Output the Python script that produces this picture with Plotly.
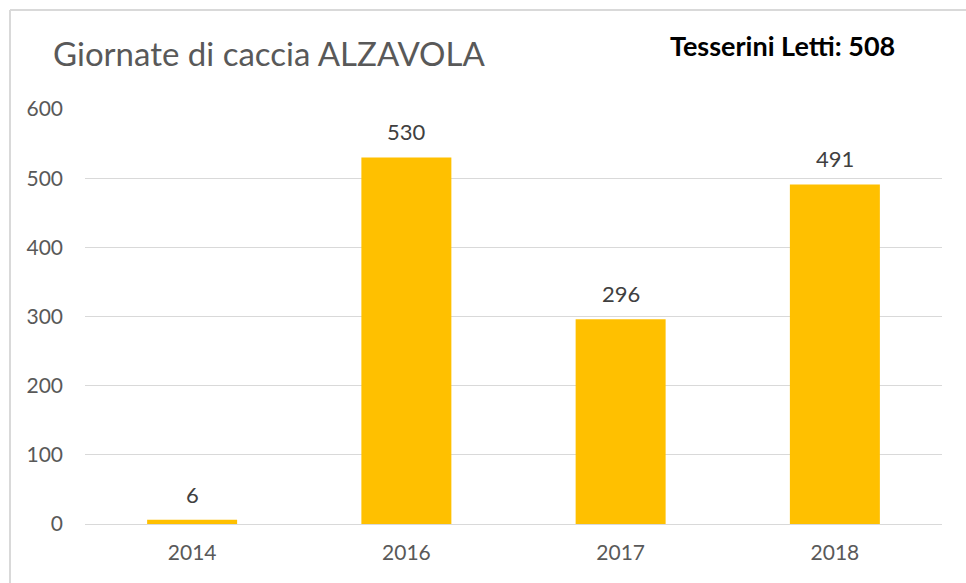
import plotly.graph_objects as go

years = ["2014", "2016", "2017", "2018"]
giornate = [6, 530, 296, 491]
title_text = "Giornate di caccia ALZAVOLA"
note_text = "Tesserini Letti: 508"

fig = go.Figure()
fig.add_trace(go.Bar(
    x=years, y=giornate,
    marker=dict(color="#FFC000", line=dict(width=0)),
    width=0.42,
    hoverinfo="skip",
))

for i, v in enumerate(giornate):
    fig.add_annotation(x=i, y=v, text=str(v), showarrow=False,
                       yanchor="bottom", yshift=10,
                       font=dict(family="Lato, sans-serif", size=22, color="#404040"))

fig.add_annotation(xref="paper", yref="paper", x=-0.04, y=1.135, xanchor="left", yanchor="middle",
                   text=title_text, showarrow=False,
                   font=dict(family="Lato, sans-serif", size=33, color="#595959"))
fig.add_annotation(xref="paper", yref="paper", x=0.68, y=1.154, xanchor="left", yanchor="middle",
                   text="<b>" + note_text + "</b>", showarrow=False,
                   font=dict(family="Lato, sans-serif", size=27, color="#000000"))

# chart border (left and top visible)
fig.add_shape(type="line", xref="paper", yref="paper", x0=-0.0875, x1=-0.0875, y0=-0.2, y1=1.2386,
              line=dict(color="#d9d9d9", width=2))
fig.add_shape(type="line", xref="paper", yref="paper", x0=-0.0875, x1=1.1, y0=1.2386, y1=1.2386,
              line=dict(color="#d9d9d9", width=2))

fig.update_layout(
    width=966, height=583,
    margin=dict(l=85, r=24, t=109, b=59, autoexpand=False),
    paper_bgcolor="white", plot_bgcolor="white",
    showlegend=False,
    font=dict(family="Lato, sans-serif", size=21, color="#595959"),
    xaxis=dict(type="category", range=[-0.5, 3.5], autorange=False, showgrid=False, showline=False,
               ticks="", tickfont=dict(size=21, color="#595959"), ticklabelstandoff=14),
    yaxis=dict(range=[0, 600], autorange=False, dtick=100, showgrid=True, gridcolor="#d9d9d9", gridwidth=1,
               zeroline=True, zerolinecolor="#d9d9d9", zerolinewidth=1, showline=False,
               ticks="", tickfont=dict(size=21, color="#595959"), ticklabelstandoff=21),
)

fig.write_html("out.html", config={"displayModeBar": False},
               post_script="document.body.style.margin='0px';")
